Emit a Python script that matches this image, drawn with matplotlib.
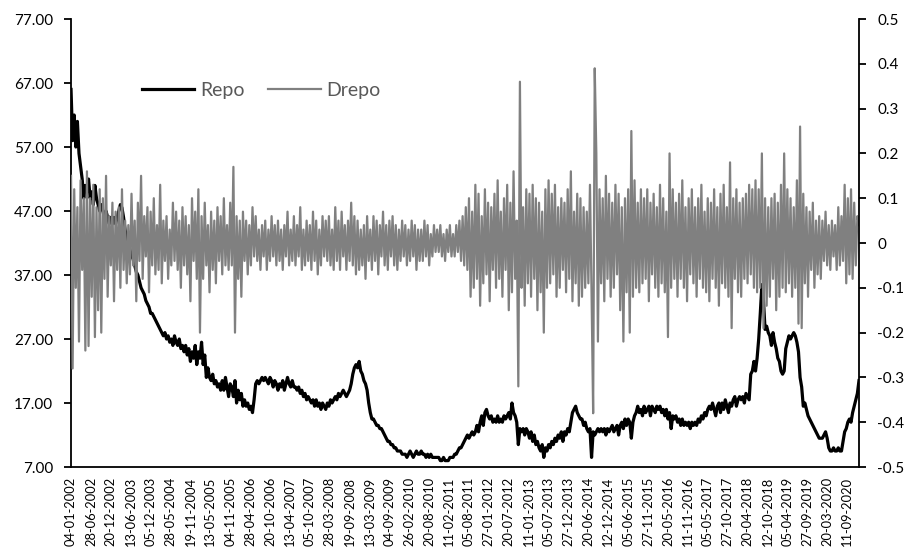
import numpy as np
import matplotlib
matplotlib.use("Agg")
import matplotlib.pyplot as plt

plt.rcParams['font.family'] = ['Lato', 'DejaVu Sans']

# Repo, every second week starting 04-01-2002
repo = [
    66, 58, 62, 57, 61, 56, 54, 52, 49, 51, 50,
    52, 49, 50, 48, 51, 49, 48, 47, 48, 47,
    46, 47, 46, 45, 46, 45, 46, 45, 46, 47,
    48, 47.5, 46, 44, 43, 42, 41, 40, 39.5, 38.5,
    37.5, 37, 36, 35, 34.5, 34, 33, 32.5, 32, 31,
    31, 30.5, 30, 29.5, 29, 28.5, 28, 27.5, 28, 27,
    27.5, 26.5, 27, 26, 27.5, 26.5, 26, 27, 25.5, 26,
    25, 26, 24.5, 25.5, 23.5, 25, 24, 26, 23, 25,
    24, 26.5, 23, 24.5, 21, 22.5, 21, 20.5, 21.5, 20,
    20.5, 19.5, 20, 19, 20.5, 19, 21, 19.5, 18, 20,
    19.5, 18, 20.5, 17, 19, 17.5, 18.5, 16.5, 17.5, 16.5,
    17, 16, 16.5, 15.5, 17.5, 20, 20.5, 20, 20.5, 21,
    20.5, 21, 20.5, 20, 21, 20.5, 19.5, 20.5, 20, 19,
    20, 19.5, 20.5, 19, 20, 21, 20, 19.5, 20.5, 19.5,
    19.5, 19, 19.5, 18.5, 19, 18, 18.5, 17.5, 18, 17.5,
    17, 17.5, 16.5, 17.5, 16.5, 17, 16, 17, 16.5, 16,
    17, 16.5, 17.5, 17, 17.5, 18, 17.5, 18.5, 18, 18.5,
    19, 18.5, 18, 18.5, 19, 20, 21.5, 22.5, 23, 22.5,
    23.5, 22, 21.5, 20.5, 20, 19, 17, 15.5, 14.5, 14.5,
    14, 13.5, 13.5, 13, 13, 12.5, 12, 11.5, 11, 11,
    10.5, 10.5, 10, 10, 9.5, 9.5, 9.5, 9, 9, 9,
    8.5, 9, 9.5, 9, 8.5, 9, 9.5, 9, 9, 9.5,
    9, 9, 8.5, 9, 8.5, 9, 8.5, 8.5, 8.5, 8.5,
    8.5, 8, 8, 8.5, 8, 8, 8, 8.5, 8.5, 8.5,
    9, 9, 9.5, 10, 10, 10.5, 11, 11.5, 12, 11.5,
    12, 12.5, 12, 12.5, 13.5, 12.5, 14, 15, 13.5, 15.5,
    16, 15, 14.5, 15, 14, 14.5, 14, 15, 14, 14.5,
    14, 15, 14.5, 15, 15.5, 14.5, 17, 15.5, 15, 14,
    10.5, 13, 12.5, 13, 12, 13, 12.5, 11.5, 12.5, 11,
    12, 10.5, 11, 10, 9.5, 10.5, 8.5, 10, 9.5, 10.5,
    10, 11, 10.5, 11.5, 11, 12, 11.5, 12.5, 11, 12.5,
    12, 13, 12.5, 14, 15.5, 16, 16.5, 15.5, 15, 14.5,
    14.5, 13.5, 14, 13, 12.5, 13, 8.5, 12.5, 12, 12.5,
    13, 12.5, 13, 12.5, 13, 12, 13, 12.5, 13, 13.5,
    12.5, 13, 13.5, 12, 13.5, 14, 13, 14.5, 13.5, 14.5,
    14, 11.5, 14, 15, 15.5, 16.5, 15.5, 16, 15, 16.5,
    15.5, 16, 16.5, 15, 16.5, 16, 15.5, 16.5, 16, 16.5,
    15.5, 16, 15, 16, 14.5, 15.5, 13, 15, 14.5, 15,
    14, 14.5, 13.5, 14.5, 13.5, 14, 13.5, 14, 13, 14,
    13.5, 14, 13.5, 14.5, 14, 15, 14.5, 15.5, 15, 16,
    16.5, 16, 17, 16, 15, 16.5, 17, 15.5, 17, 16,
    17.5, 16.5, 15.5, 17, 16.5, 17.5, 18, 16.5, 17.5, 18,
    17.5, 18, 17, 18.5, 18, 17.5, 21.5, 22, 23.5, 22,
    24, 27, 31, 35.5, 33, 28.5, 29, 28, 27.5, 26,
    28, 26.5, 25.5, 24, 23.5, 22, 21.5, 22, 25.5, 26.5,
    27.5, 27, 27.5, 28, 27.5, 26.5, 25, 21, 19.5, 16.5,
    17, 16, 15, 14.5, 14, 13.5, 13, 12.5, 12, 11.5,
    11.5, 11.5, 12, 12.5, 11.5, 10, 9.5, 9.5, 10, 9.5,
    9.5, 10, 9.5, 9.5, 11, 12.5, 13, 14, 14.5, 14,
    15.5, 16.5, 17.5, 18.5, 20.5,
]

# Drepo, same two-weekly points
drepo = [
    0.15, -0.28, 0.12, -0.1, 0.08, -0.22, 0.14, -0.06, 0.1, -0.24,
    0.16, -0.23, 0.1, -0.12, 0.13, -0.21, 0.08, -0.15, 0.12, -0.2,
    0.1, -0.08, 0.15, -0.12, 0.06, -0.05, 0.09, -0.13, 0.07, -0.06,
    0.08, -0.1, 0.12, -0.06, 0.05, -0.09, 0.04, -0.07, 0.11, -0.05,
    0.05, -0.13, 0.09, -0.04, 0.15, -0.08, 0.06, -0.03, 0.08, -0.11,
    0.07, -0.05, 0.1, -0.07, 0.04, -0.06, 0.13, -0.09, 0.05, -0.04,
    0.06, -0.08, 0.03, -0.05, 0.09, -0.04, 0.07, -0.06, 0.05, -0.1,
    0.08, -0.05, 0.06, -0.07, 0.04, -0.13, 0.1, -0.04, 0.07, -0.08,
    0.12, -0.2, 0.06, -0.08, 0.09, -0.05, 0.04, -0.11, 0.07, -0.06,
    0.05, -0.09, 0.08, -0.04, 0.06, -0.07, 0.1, -0.05, 0.04, -0.06,
    0.09, -0.05, 0.17, -0.2, 0.06, -0.08, 0.05, -0.12, 0.07, -0.04,
    0.05, -0.07, 0.04, -0.05, 0.08, -0.03, 0.06, -0.04, 0.03, -0.06,
    0.04, -0.03, 0.05, -0.06, 0.03, -0.04, 0.06, -0.03, 0.04, -0.05,
    0.05, -0.04, 0.03, -0.06, 0.04, -0.03, 0.07, -0.05, 0.03, -0.04,
    0.06, -0.05, 0.04, -0.03, 0.08, -0.06, 0.03, -0.05, 0.05, -0.04,
    0.04, -0.06, 0.07, -0.04, 0.05, -0.07, 0.03, -0.05, 0.06, -0.03,
    0.05, -0.04, 0.06, -0.05, 0.03, -0.06, 0.08, -0.04, 0.05, -0.06,
    0.07, -0.03, 0.04, -0.06, 0.05, -0.04, 0.09, -0.05, 0.06, -0.07,
    0.05, -0.06, 0.03, -0.05, 0.04, -0.08, 0.06, -0.04, 0.03, -0.06,
    0.06, -0.04, 0.05, -0.07, 0.04, -0.03, 0.07, -0.05, 0.04, -0.06,
    0.05, -0.03, 0.06, -0.05, 0.04, -0.06, 0.03, -0.04, 0.05, -0.03,
    0.04, -0.05, 0.03, -0.04, 0.05, -0.03, 0.04, -0.06, 0.03, -0.04,
    0.03, -0.04, 0.05, -0.03, 0.04, -0.05, 0.02, -0.03, 0.04, -0.02,
    0.03, -0.02, 0.04, -0.03, 0.02, -0.04, 0.03, -0.02, 0.04, -0.03,
    0.02, -0.03, 0.04, -0.02, 0.05, -0.04, 0.06, -0.05, 0.08, -0.06,
    0.1, -0.12, 0.07, -0.1, 0.13, -0.08, 0.11, -0.14, 0.06, -0.09,
    0.12, -0.07, 0.09, -0.13, 0.08, -0.06, 0.11, -0.1, 0.14, -0.08,
    0.07, -0.12, 0.1, -0.06, 0.13, -0.15, 0.09, -0.11, 0.16, -0.08,
    0.05, -0.32, 0.36, -0.1, 0.08, -0.14, 0.12, -0.09, 0.11, -0.12,
    0.13, -0.08, 0.1, -0.15, 0.09, -0.11, 0.07, -0.2, 0.12, -0.1,
    0.14, -0.09, 0.11, -0.07, 0.13, -0.12, 0.08, -0.1, 0.1, -0.06,
    0.09, -0.11, 0.12, -0.08, 0.16, -0.13, 0.07, -0.09, 0.11, -0.14,
    0.1, -0.12, 0.08, -0.1, 0.07, -0.09, 0.13, -0.11, -0.38, 0.39,
    0.2, -0.22, 0.12, -0.09, 0.1, -0.13, 0.15, -0.08, 0.11, -0.12,
    0.09, -0.1, 0.13, -0.07, 0.11, -0.15, 0.08, -0.22, 0.1, -0.11,
    0.12, -0.2, 0.25, -0.12, 0.14, -0.1, 0.09, -0.11, 0.12, -0.09,
    0.1, -0.08, 0.12, -0.13, 0.09, -0.07, 0.11, -0.1, 0.08, -0.12,
    0.13, -0.09, 0.1, -0.11, 0.07, -0.21, 0.2, -0.1, 0.12, -0.08,
    0.09, -0.12, 0.11, -0.08, 0.14, -0.1, 0.08, -0.13, 0.1, -0.07,
    0.12, -0.09, 0.08, -0.12, 0.1, -0.08, 0.13, -0.1, 0.07, -0.11,
    0.1, -0.13, 0.09, -0.08, 0.12, -0.1, 0.08, -0.14, 0.11, -0.09,
    0.13, -0.1, 0.08, -0.12, 0.18, -0.19, 0.1, -0.08, 0.12, -0.11,
    0.09, -0.12, 0.1, -0.08, 0.11, -0.09, 0.13, -0.07, 0.12, -0.1,
    0.14, -0.11, 0.12, -0.1, 0.2, -0.19, 0.1, -0.14, 0.08, -0.12,
    0.1, -0.08, 0.11, -0.15, 0.09, -0.12, 0.13, -0.1, 0.2, -0.11,
    0.12, -0.09, 0.1, -0.12, 0.08, -0.1, 0.14, -0.18, 0.26, -0.19,
    0.11, -0.09, 0.08, -0.12, 0.07, -0.06, 0.09, -0.1, 0.05, -0.07,
    0.06, -0.08, 0.05, -0.04, 0.07, -0.05, 0.04, -0.06, 0.05, -0.03,
    0.04, -0.06, 0.08, -0.05, 0.06, -0.04, 0.13, -0.09, 0.1, -0.07,
    0.12, -0.08, 0.09, -0.05, 0.06, 0.04,
]

date_labels = [
    "04-01-2002", "28-06-2002", "20-12-2002", "13-06-2003", "05-12-2003",
    "28-05-2004", "19-11-2004", "13-05-2005", "04-11-2005", "28-04-2006",
    "20-10-2006", "13-04-2007", "05-10-2007", "28-03-2008", "19-09-2008",
    "13-03-2009", "04-09-2009", "26-02-2010", "20-08-2010", "11-02-2011",
    "05-08-2011", "27-01-2012", "20-07-2012", "11-01-2013", "05-07-2013",
    "27-12-2013", "20-06-2014", "12-12-2014", "05-06-2015", "27-11-2015",
    "20-05-2016", "11-11-2016", "05-05-2017", "27-10-2017", "20-04-2018",
    "12-10-2018", "05-04-2019", "27-09-2019", "20-03-2020", "11-09-2020",
]

weeks_repo = np.arange(len(repo)) * 2
weeks_drepo = np.arange(len(drepo)) * 2

fig = plt.figure(figsize=(9.06, 5.53), dpi=100)
ax = fig.add_axes([0.0784, 0.1555, 0.8697, 0.8101])
ax2 = ax.twinx()

line1, = ax.plot(weeks_repo, repo, color="black", lw=2.3, label="Repo")
line2, = ax2.plot(weeks_drepo, drepo, color="#808080", lw=1.6, label="Drepo")

ax.set_xlim(0, 990)
ax.set_ylim(7, 77)
ax2.set_ylim(-0.5, 0.5)

ax.set_yticks(np.arange(7, 78, 10))
ax.set_yticklabels([f"{v:.2f}" for v in np.arange(7, 78, 10)])
rticks = np.round(np.arange(-0.5, 0.51, 0.1), 1)
ax2.set_yticks(rticks)
ax2.set_yticklabels([f"{v + 0.0:g}" for v in rticks])

ax.set_xticks(np.arange(0, 25 * len(date_labels), 25))
ax.set_xticklabels(date_labels, rotation=90, fontsize=9.3)

for a in (ax, ax2):
    a.spines["top"].set_visible(False)
    for s in ("left", "right", "bottom"):
        a.spines[s].set_linewidth(1.3)
ax.spines["right"].set_visible(False)
ax2.spines["left"].set_visible(False)
ax2.spines["bottom"].set_visible(False)

ax.tick_params(axis="y", direction="out", length=5, width=1.3, pad=8, labelsize=11)
ax.tick_params(axis="x", length=0, pad=7)
ax2.tick_params(axis="y", direction="out", length=5, width=1.3, pad=8, labelsize=11)

fig.legend([line1, line2], ["Repo", "Drepo"], loc="center left",
           bbox_to_anchor=(0.1567, 0.837), ncol=2, frameon=False,
           fontsize=14, handlelength=2.7, handletextpad=0.3,
           columnspacing=1.2, borderpad=0, borderaxespad=0,
           labelcolor="#595959")

fig.savefig("out.png", dpi=100)
